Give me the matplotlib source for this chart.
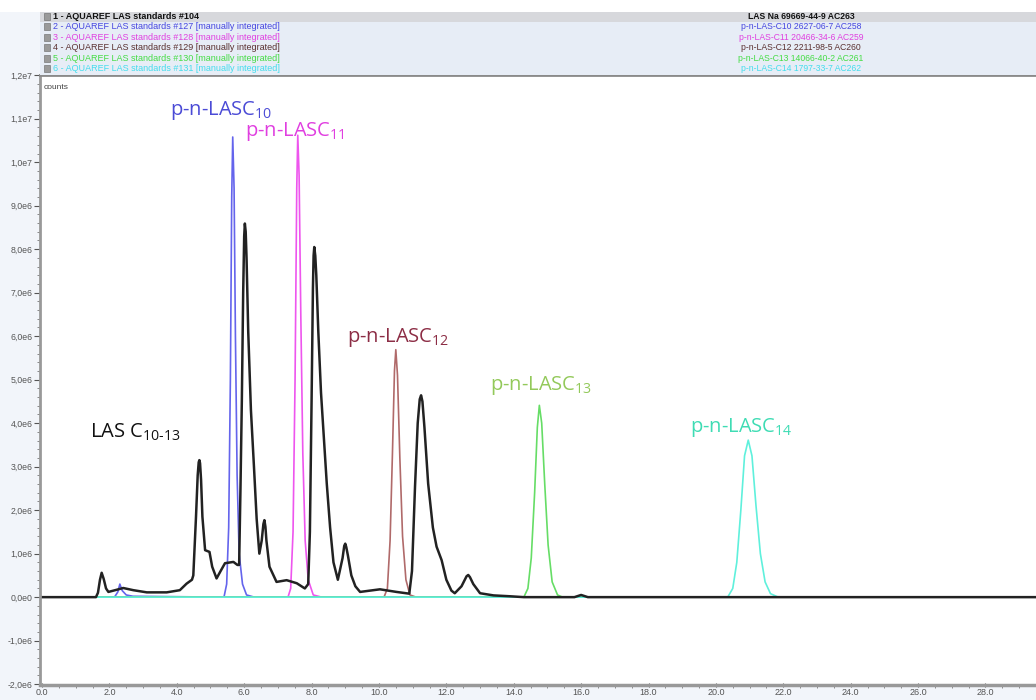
import matplotlib
matplotlib.use("Agg")
import matplotlib.pyplot as plt
from matplotlib.patches import Rectangle

plt.rcParams['font.family'] = ['Liberation Sans', 'DejaVu Sans']
plt.rcParams['mathtext.fontset'] = 'custom'
plt.rcParams['mathtext.rm'] = 'Open Sans'

# retention time (min) / counts (x1e6)
las_t = [0.0, 1.60, 1.66, 1.72, 1.77, 1.83, 1.90, 1.97, 2.17, 2.41, 2.71, 3.11, 3.70, 4.09, 4.29,
         4.45, 4.49, 4.57, 4.62, 4.65, 4.67, 4.69, 4.72, 4.76, 4.84, 4.97, 5.05, 5.18, 5.30, 5.43,
         5.68, 5.80, 5.85, 5.89, 5.93, 5.97, 6.00, 6.02, 6.045, 6.07, 6.12, 6.20, 6.29, 6.37, 6.45,
         6.52, 6.57, 6.60, 6.63, 6.66, 6.75, 6.96, 7.26, 7.56, 7.80, 7.90, 7.95, 8.00, 8.04, 8.06,
         8.08, 8.11, 8.14, 8.20, 8.28, 8.37, 8.45, 8.55, 8.65, 8.78, 8.92, 8.97, 9.00, 9.03, 9.08,
         9.18, 9.30, 9.44, 10.03, 10.52, 10.90, 10.98, 11.07, 11.15, 11.21, 11.25, 11.29, 11.35,
         11.46, 11.60, 11.71, 11.86, 12.00, 12.15, 12.25, 12.45, 12.60, 12.65, 12.70, 12.80, 13.00,
         13.40, 13.89, 14.30, 15.80, 16.00, 16.20, 29.5]
las_c = [0.0, 0.0, 0.10, 0.40, 0.56, 0.42, 0.20, 0.12, 0.16, 0.21, 0.16, 0.11, 0.11, 0.16, 0.31,
         0.40, 0.50, 1.85, 2.80, 3.10, 3.15, 3.08, 2.70, 1.85, 1.08, 1.04, 0.70, 0.43, 0.60, 0.78,
         0.81, 0.74, 0.74, 2.50, 4.50, 7.00, 8.30, 8.59, 8.40, 7.80, 6.10, 4.30, 3.00, 1.80, 1.00,
         1.30, 1.68, 1.77, 1.62, 1.30, 0.70, 0.35, 0.39, 0.32, 0.20, 0.30, 1.50, 4.50, 7.10, 7.85,
         8.05, 7.85, 7.40, 6.10, 4.70, 3.60, 2.62, 1.60, 0.80, 0.40, 0.90, 1.18, 1.23, 1.15, 0.95,
         0.50, 0.25, 0.12, 0.18, 0.12, 0.08, 0.60, 2.54, 4.00, 4.55, 4.64, 4.50, 3.90,
         2.61, 1.60, 1.16, 0.85, 0.40, 0.15, 0.09, 0.25, 0.48, 0.51, 0.46, 0.30, 0.09,
         0.04, 0.02, 0.0, 0.0, 0.05, 0.0, 0.0]

c10_t = [0.0, 2.15, 2.25, 2.31, 2.38, 2.50, 2.70, 5.40, 5.48, 5.54, 5.59, 5.63, 5.66, 5.70, 5.74,
         5.79, 5.85, 5.95, 6.07, 6.30, 29.5]
c10_c = [0.0, 0.0, 0.12, 0.30, 0.15, 0.05, 0.02, 0.0, 0.30, 1.60, 5.00, 9.20, 10.58, 9.40, 6.00,
         2.80, 1.00, 0.30, 0.05, 0.0, 0.0]

c11_t = [0.0, 7.30, 7.38, 7.45, 7.51, 7.56, 7.59, 7.63, 7.68, 7.74, 7.81, 7.90, 8.05, 8.30, 29.5]
c11_c = [0.0, 0.0, 0.20, 1.50, 5.00, 9.40, 10.62, 9.70, 6.50, 3.30, 1.30, 0.40, 0.05, 0.0, 0.0]

c12_t = [0.0, 10.15, 10.25, 10.33, 10.40, 10.46, 10.50, 10.55, 10.62, 10.70, 10.80, 10.92, 11.10, 29.5]
c12_c = [0.0, 0.0, 0.20, 1.30, 3.30, 5.20, 5.69, 5.10, 3.20, 1.40, 0.40, 0.05, 0.0, 0.0]

c13_t = [0.0, 14.30, 14.42, 14.52, 14.62, 14.70, 14.76, 14.83, 14.92, 15.02, 15.14, 15.30, 15.45, 29.5]
c13_c = [0.0, 0.0, 0.20, 0.90, 2.40, 3.90, 4.41, 4.00, 2.60, 1.20, 0.35, 0.05, 0.0, 0.0]

c14_t = [0.0, 20.35, 20.50, 20.62, 20.74, 20.85, 20.96, 21.07, 21.19, 21.32, 21.46, 21.62, 21.85, 29.5]
c14_c = [0.0, 0.0, 0.20, 0.80, 2.00, 3.25, 3.61, 3.25, 2.10, 1.00, 0.35, 0.08, 0.0, 0.0]

x_ticks = [0, 2, 4, 6, 8, 10, 12, 14, 16, 18, 20, 22, 24, 26, 28]
x_labels = ['0.0', '2.0', '4.0', '6.0', '8.0', '10.0', '12.0', '14.0', '16.0', '18.0', '20.0',
            '22.0', '24.0', '26.0', '28.0']
y_ticks = [12, 11, 10, 9, 8, 7, 6, 5, 4, 3, 2, 1, 0, -1, -2]
y_labels = ['1,2e7', '1,1e7', '1,0e7', '9,0e6', '8,0e6', '7,0e6', '6,0e6', '5,0e6', '4,0e6',
            '3,0e6', '2,0e6', '1,0e6', '0,0e0', '-1,0e6', '-2,0e6']

header_left = ['1 - AQUAREF LAS standards #104',
               '2 - AQUAREF LAS standards #127 [manually integrated]',
               '3 - AQUAREF LAS standards #128 [manually integrated]',
               '4 - AQUAREF LAS standards #129 [manually integrated]',
               '5 - AQUAREF LAS standards #130 [manually integrated]',
               '6 - AQUAREF LAS standards #131 [manually integrated]']
header_right = ['LAS Na 69669-44-9 AC263',
                'p-n-LAS-C10 2627-06-7 AC258',
                'p-n-LAS-C11 20466-34-6 AC259',
                'p-n-LAS-C12 2211-98-5 AC260',
                'p-n-LAS-C13 14066-40-2 AC261',
                'p-n-LAS-C14 1797-33-7 AC262']
header_colors = ['#111111', '#4646e0', '#e040e0', '#5a3030', '#44dd44', '#44dded']

W, H = 1036, 700
fig = plt.figure(figsize=(W / 100, H / 100), dpi=100)
fig.patch.set_facecolor('#f2f5fa')

def fx(px):
    return px / W

def fy(py):
    return 1 - py / H

# header band
fig.patches.append(Rectangle((0, fy(12)), 1, 12 / H, transform=fig.transFigure,
                             facecolor='white', edgecolor='none', zorder=0))
fig.patches.append(Rectangle((fx(40), fy(75)), 1 - fx(40), 63 / H, transform=fig.transFigure,
                             facecolor='#e7edf6', edgecolor='none', zorder=0))
fig.patches.append(Rectangle((fx(40), fy(21.5)), 1 - fx(40), 9.5 / H, transform=fig.transFigure,
                             facecolor='#d7d8dc', edgecolor='none', zorder=1))
for i, (lt, rt, col) in enumerate(zip(header_left, header_right, header_colors)):
    yc = fy(16.5 + i * 10.4)
    fig.patches.append(Rectangle((fx(44), yc - 3.5 / H), 6 / W, 7 / H, transform=fig.transFigure,
                                 facecolor='#9a9a9a', edgecolor='#666666', lw=0.4, zorder=2))
    w = 'bold' if i == 0 else 'normal'
    fig.text(fx(53), yc, lt, color=col, fontsize=6.5, va='center', ha='left', fontweight=w)
    fig.text(fx(801), yc, rt, color=col, fontsize=6.2, va='center', ha='center', fontweight=w)

# main chromatogram
ax = fig.add_axes([fx(40), fy(685), 1 - fx(40), (685 - 75) / H])
ax.set_facecolor('white')

ax.plot(c10_t, [v * 1e6 for v in c10_c], color='#6464ec', lw=1.2)
ax.plot(c11_t, [v * 1e6 for v in c11_c], color='#ee55ee', lw=1.2)
ax.plot(c12_t, [v * 1e6 for v in c12_c], color='#b06a6a', lw=1.2)
ax.plot(c13_t, [v * 1e6 for v in c13_c], color='#66dd66', lw=1.2)
ax.plot(c14_t, [v * 1e6 for v in c14_c], color='#5ff0dc', lw=1.2)
ax.plot(las_t, [v * 1e6 for v in las_c], color='#222222', lw=1.8)

ax.set_xlim(-0.06, 29.5)
ax.set_ylim(-2.02e6, 1.2005e7)

ax.set_xticks(x_ticks)
ax.set_xticklabels(x_labels)
ax.set_yticks([v * 1e6 for v in y_ticks])
ax.set_yticklabels(y_labels)
ax.set_xticks([i * 0.5 for i in range(0, 60)], minor=True)
ax.set_yticks([i * 0.2e6 for i in range(-10, 61)], minor=True)
ax.tick_params(axis='y', which='major', labelsize=6.3, labelcolor='#555555', color='#555555',
               length=4, width=0.8, pad=1.5)
ax.tick_params(axis='x', which='major', labelsize=6.5, labelcolor='#555555', color='#555555',
               length=3, width=0.8, pad=0.5, direction='inout')
ax.tick_params(axis='both', which='minor', color='#777777', length=2, width=0.6)

ax.spines['right'].set_visible(False)
ax.spines['top'].set_color('#8a8a8a')
ax.spines['top'].set_linewidth(2)
ax.spines['left'].set_color('#999999')
ax.spines['left'].set_linewidth(2)
ax.spines['bottom'].set_color('#999999')
ax.spines['bottom'].set_linewidth(2.5)

ax.text(0.004, 0.985, 'counts', transform=ax.transAxes, fontsize=6, color='#444444',
        va='top', ha='left')

# peak labels
lab_kw = dict(fontsize=14.5, va='center', ha='left', family=['Open Sans', 'DejaVu Sans'])
ax.text(3.80, 11.2e6, r'p-n-LASC$_{\mathregular{10}}$', color='#4b4bd6', **lab_kw)
ax.text(6.02, 10.71e6, r'p-n-LASC$_{\mathregular{11}}$', color='#e03fe0', **lab_kw)
ax.text(9.05, 5.98e6, r'p-n-LASC$_{\mathregular{12}}$', color='#8c2d45', **lab_kw)
ax.text(13.29, 4.87e6, r'p-n-LASC$_{\mathregular{13}}$', color='#93c95a', **lab_kw)
ax.text(19.23, 3.89e6, r'p-n-LASC$_{\mathregular{14}}$', color='#3fdcb4', **lab_kw)
ax.text(1.42, 3.79e6, r'LAS C$_{\mathregular{10\text{-}13}}$', color='#111111', **lab_kw)

fig.savefig('out.png', dpi=100, facecolor=fig.get_facecolor())
